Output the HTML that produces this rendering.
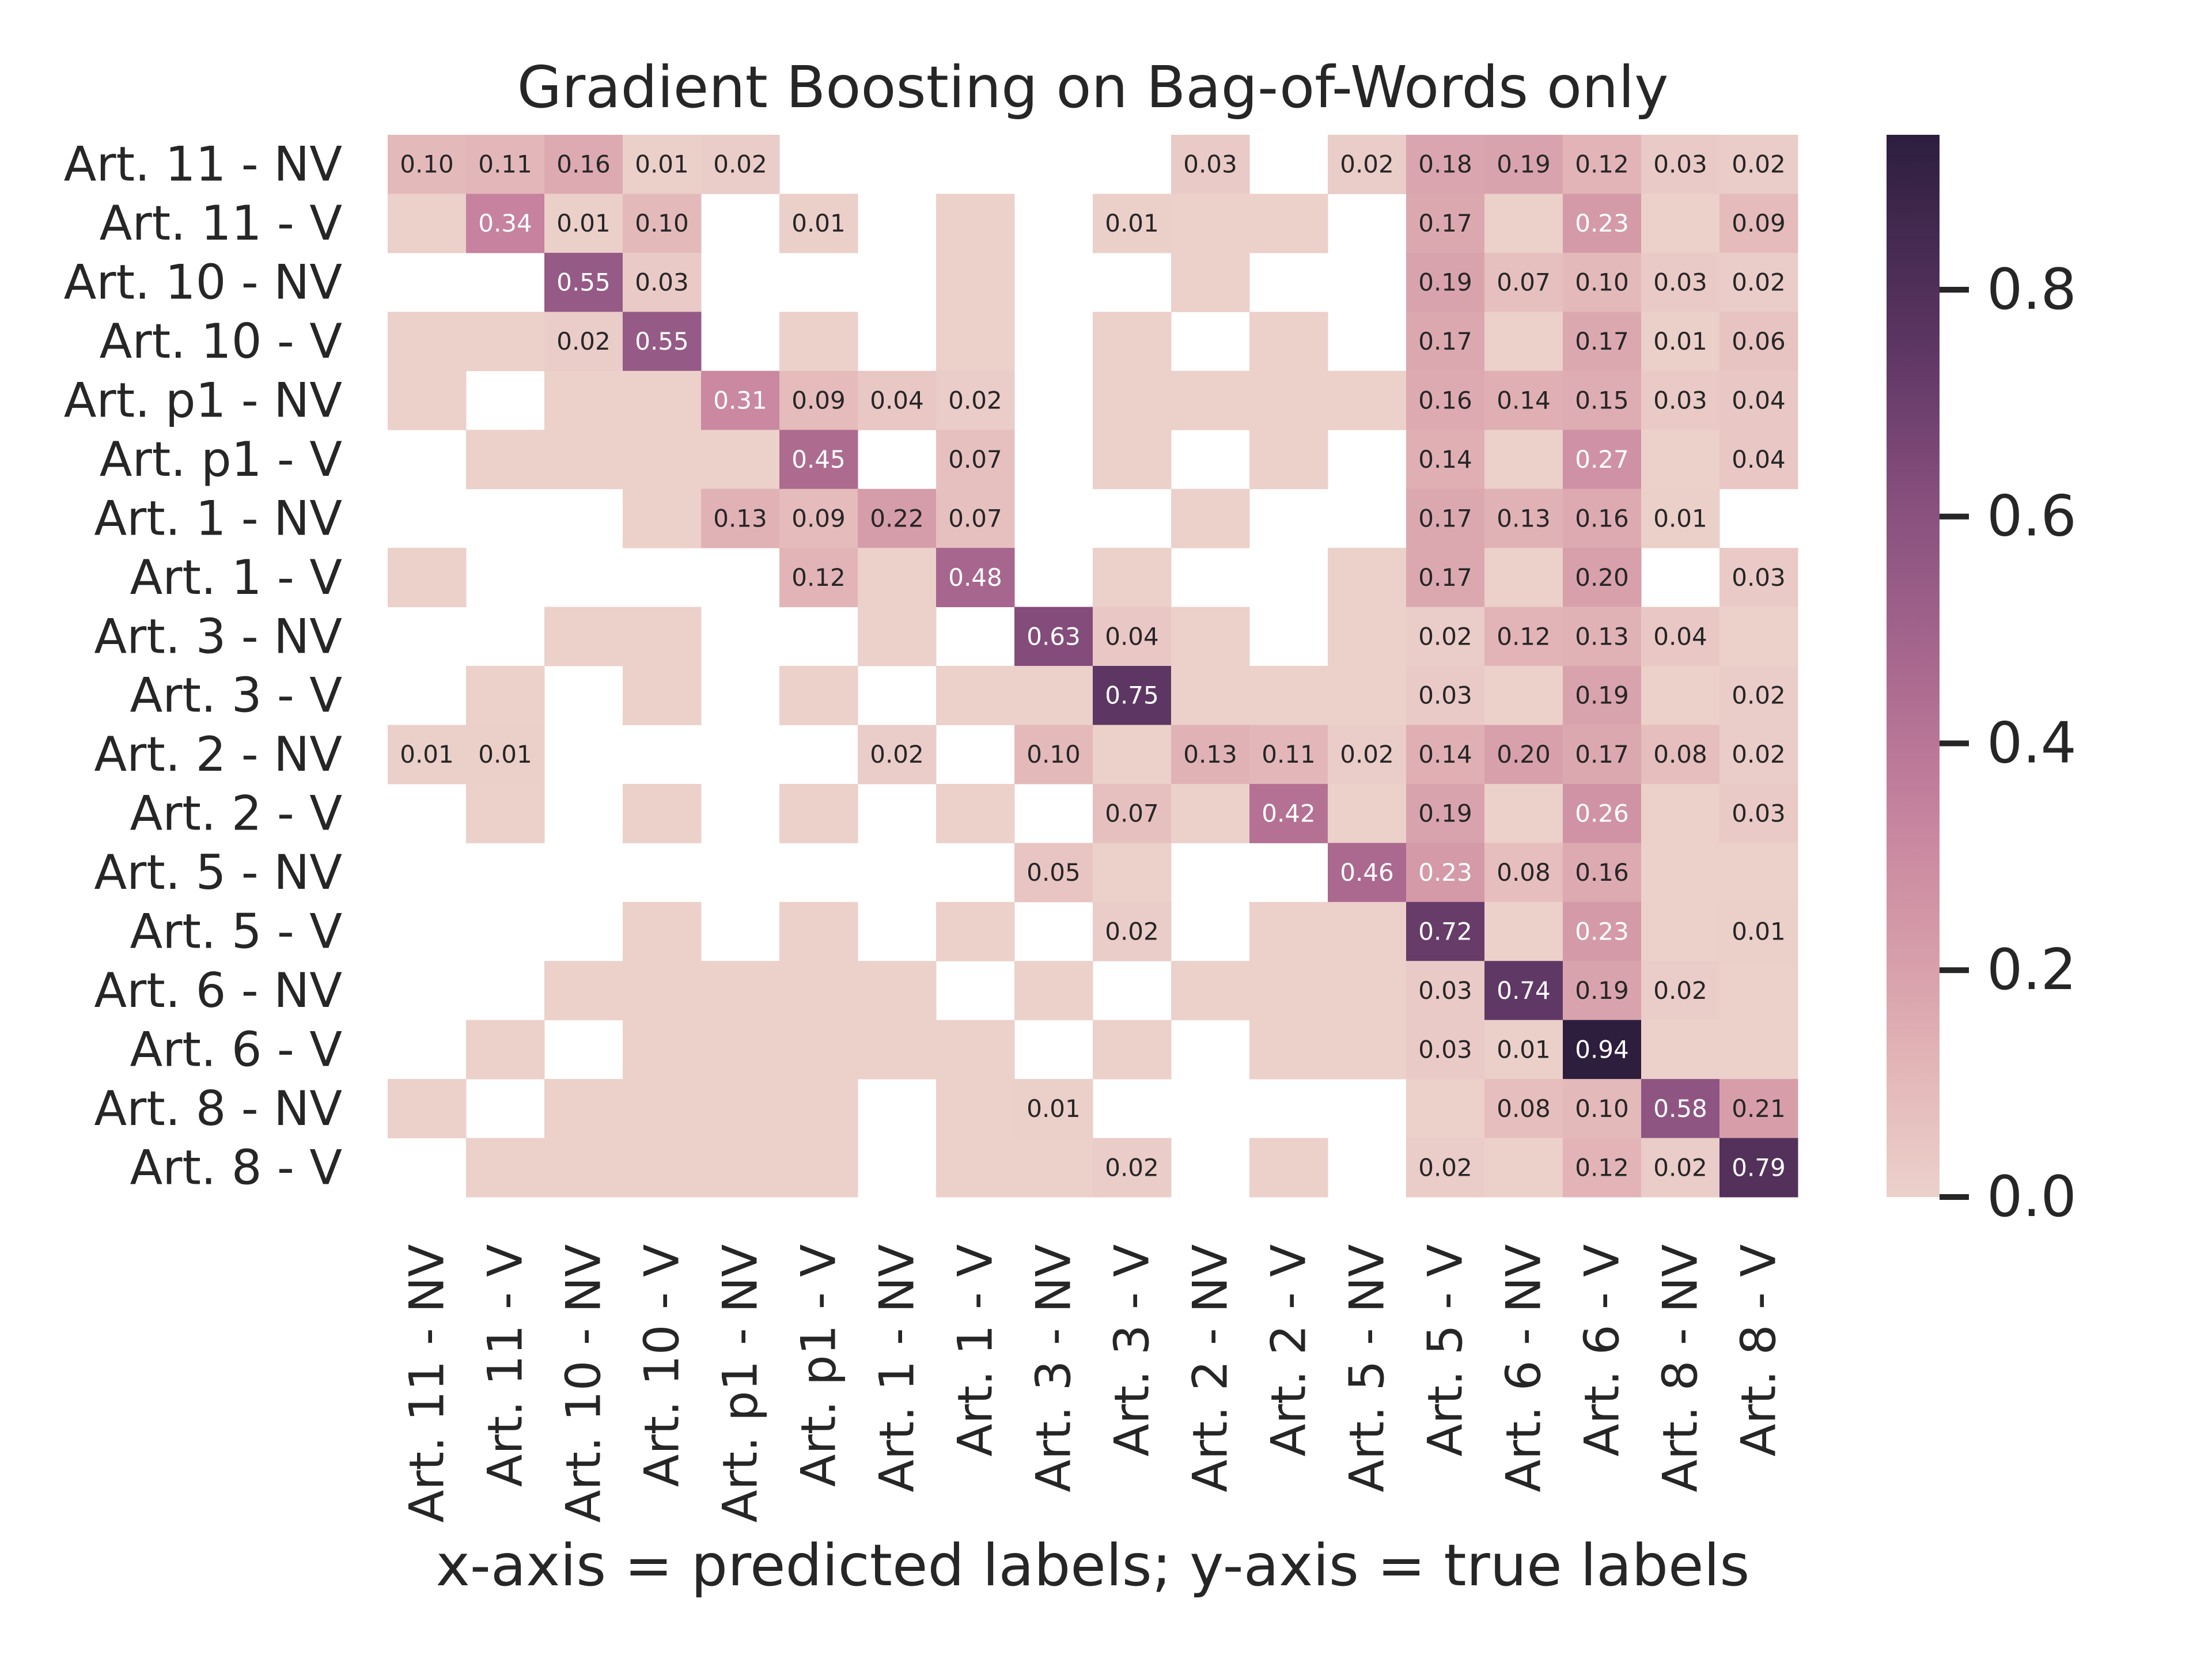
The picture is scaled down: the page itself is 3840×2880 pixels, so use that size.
<!DOCTYPE html>
<html><head><meta charset="utf-8"><style>
html,body{margin:0;padding:0;background:#fff;}
svg{display:block;font-family:"DejaVu Sans","Liberation Sans",sans-serif;}
</style></head><body>
<svg id="chart" width="3840" height="2880" viewBox="0 0 3840 2880" xmlns="http://www.w3.org/2000/svg">
<rect width="3840" height="2880" fill="#fff"/>
<text x="1897" y="186" font-size="100" text-anchor="middle" fill="#262626">Gradient Boosting on Bag-of-Words only</text>
<text x="1897" y="2752" font-size="100" text-anchor="middle" fill="#262626">x-axis = predicted labels; y-axis = true labels</text>
<g id="cells"></g><g id="ylabels"></g><g id="xlabels"></g><g id="cbar"></g>
</svg>
<script>
const labels = ["Art. 11 - NV","Art. 11 - V","Art. 10 - NV","Art. 10 - V","Art. p1 - NV","Art. p1 - V","Art. 1 - NV","Art. 1 - V","Art. 3 - NV","Art. 3 - V","Art. 2 - NV","Art. 2 - V","Art. 5 - NV","Art. 5 - V","Art. 6 - NV","Art. 6 - V","Art. 8 - NV","Art. 8 - V"];
const s = 0.004;
const row0  = [.10,.11,.16,.01,.02,0,0,0,0,0,.03,0,.02,.18,.19,.12,.03,.02];
const row1  = [s,.34,.01,.10,0,.01,0,s,0,.01,s,s,0,.17,s,.23,s,.09];
const row2  = [0,0,.55,.03,0,0,0,s,0,0,s,0,0,.19,.07,.10,.03,.02];
const row3  = [s,s,.02,.55,0,s,0,s,0,s,0,s,0,.17,s,.17,.01,.06];
const row4  = [s,0,s,s,.31,.09,.04,.02,0,s,s,s,s,.16,.14,.15,.03,.04];
const row5  = [0,s,s,s,s,.45,0,.07,0,s,0,s,0,.14,s,.27,s,.04];
const row6  = [0,0,0,s,.13,.09,.22,.07,0,0,s,0,0,.17,.13,.16,.01,0];
const row7  = [s,0,0,0,0,.12,s,.48,0,s,0,0,s,.17,s,.20,0,.03];
const row8  = [0,0,s,s,0,0,s,0,.63,.04,s,0,s,.02,.12,.13,.04,s];
const row9  = [0,s,0,s,0,s,0,s,s,.75,s,s,s,.03,s,.19,s,.02];
const row10 = [.01,.01,0,0,0,0,.02,0,.10,s,.13,.11,.02,.14,.20,.17,.08,.02];
const row11 = [0,s,0,s,0,s,0,s,0,.07,s,.42,s,.19,s,.26,s,.03];
const row12 = [0,0,0,0,0,0,0,0,.05,s,0,0,.46,.23,.08,.16,s,s];
const row13 = [0,0,0,s,0,s,0,s,0,.02,0,s,s,.72,s,.23,s,.01];
const row14 = [0,0,s,s,s,s,s,0,s,0,s,s,s,.03,.74,.19,.02,s];
const row15 = [0,s,0,s,s,s,s,s,0,s,0,s,s,.03,.01,.94,s,s];
const row16 = [s,0,s,s,s,s,0,s,.01,0,0,0,0,s,.08,.10,.58,.21];
const row17 = [0,s,s,s,s,s,0,s,s,.02,0,s,0,.02,s,.12,.02,.79];
const matrix = [row0,row1,row2,row3,row4,row5,row6,row7,row8,row9,row10,row11,row12,row13,row14,row15,row16,row17];
const cbarTicks = [0,0.2,0.4,0.6,0.8];
const cbarTickLabels = ["0.0","0.2","0.4","0.6","0.8"];

const VMAX = 0.9366;
const GX0 = 673, GX1 = 3121, GY0 = 234, GY1 = 2078;
const n = labels.length;
const cw = (GX1-GX0)/n, ch = (GY1-GY0)/n;
const xPos = i => GX0 + i*cw;
const yPos = j => GY0 + j*ch;
const CB = {x0:3275, x1:3367, y0:234, y1:2078};
const cbY = v => CB.y1 - v/VMAX*(CB.y1-CB.y0);

const stops = [[0,[236,209,203]],[0.1,[228,185,186]],[0.2,[216,160,171]],[0.34,[198,130,158]],[0.45,[173,107,144]],[0.55,[149,90,134]],[0.63,[131,76,122]],[0.75,[93,54,99]],[0.9366,[45,30,62]]];
function color(v){
  if(v<=stops[0][0]) return 'rgb('+stops[0][1].join(',')+')';
  for(let k=1;k<stops.length;k++){
    if(v<=stops[k][0]){
      const a=stops[k-1],b=stops[k],t=(v-a[0])/(b[0]-a[0]);
      return 'rgb('+a[1].map((c,i)=>Math.round(c+(b[1][i]-c)*t)).join(',')+')';
    }
  }
  return 'rgb('+stops[stops.length-1][1].join(',')+')';
}
const NS='http://www.w3.org/2000/svg';
function mk(tag,attrs,parent){const e=document.createElementNS(NS,tag);for(const k in attrs)e.setAttribute(k,attrs[k]);parent.appendChild(e);return e;}

const cells=document.getElementById('cells');
matrix.forEach((row,j)=>{
  row.forEach((v,i)=>{
    if(v<=0) return;
    const r=mk('rect',{x:xPos(i),y:yPos(j),width:cw+0.5,height:ch+0.5,fill:color(v)},cells);
    
    
    if(v>=0.005){
      const t=mk('text',{x:xPos(i)+cw/2,y:yPos(j)+ch/2,'font-size':42,'text-anchor':'middle','dominant-baseline':'central',fill:v>=0.225?'#fff':'#262626'},cells);
      t.textContent=v.toFixed(2);
      
      
    }
  });
});

const yl=document.getElementById('ylabels');
labels.forEach((lab,j)=>{
  const t=mk('text',{x:594,y:yPos(j)+ch/2,'font-size':83,'text-anchor':'end','dominant-baseline':'central',fill:'#262626'},yl);
  t.textContent=lab;
  
  
});
const xl=document.getElementById('xlabels');
labels.forEach((lab,i)=>{
  const cx=xPos(i)+cw/2, y=2160;
  const t=mk('text',{x:cx,y:y,'font-size':83,'text-anchor':'end','dominant-baseline':'central',fill:'#262626',transform:'rotate(-90 '+cx+' '+y+')'},xl);
  t.textContent=lab;
  
  
});

const cb=document.getElementById('cbar');
const defs=mk('defs',{},cb);
const lg=mk('linearGradient',{id:'cbg',x1:0,y1:1,x2:0,y2:0},defs);
for(let k=0;k<=40;k++){const v=k/40*VMAX;mk('stop',{offset:(k/40),'stop-color':color(v)},lg);}
const bar=mk('rect',{x:CB.x0,y:CB.y0,width:CB.x1-CB.x0,height:CB.y1-CB.y0,fill:'url(#cbg)'},cb);


cbarTicks.forEach((v,k)=>{
  const y=cbY(v);
  const tk=mk('rect',{x:CB.x1,y:y-5,width:51,height:10,fill:'#262626'},cb);
  
  
  const t=mk('text',{x:3449,y:y,'font-size':98,'dominant-baseline':'central',fill:'#262626'},cb);
  t.textContent=cbarTickLabels[k];
  
  
});
</script>
</body></html>
